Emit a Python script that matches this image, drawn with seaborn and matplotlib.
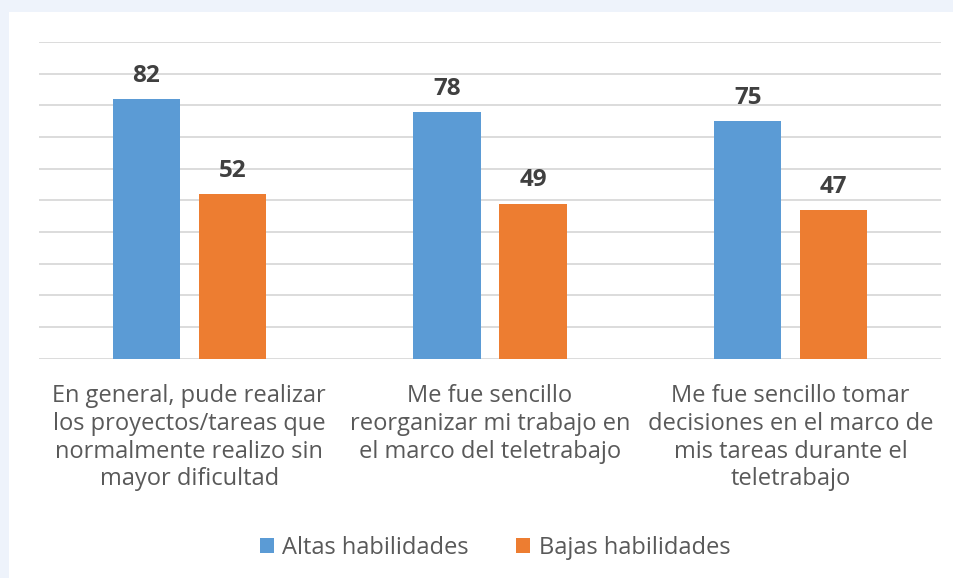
import pandas as pd
import matplotlib.pyplot as plt
import seaborn as sns
from matplotlib.patches import Rectangle, Patch

# Données
categories = [
    "En general, pude realizar\nlos proyectos/tareas que\nnormalmente realizo sin\nmayor dificultad",
    "Me fue sencillo\nreorganizar mi trabajo en\nel marco del teletrabajo",
    "Me fue sencillo tomar\ndecisiones en el marco de\nmis tareas durante el\nteletrabajo",
]
series = ["Altas habilidades", "Bajas habilidades"]
altas = [82, 78, 75]
bajas = [52, 49, 47]
colors = ["#5B9BD5", "#ED7D31"]

df = pd.DataFrame({
    "Categoria": categories * 2,
    "Grupo": [series[0]] * 3 + [series[1]] * 3,
    "Valor": altas + bajas,
})

sns.set_style("white")
plt.rcParams["font.family"] = ["Open Sans", "DejaVu Sans"]

fig = plt.figure(figsize=(9.54, 5.78), dpi=100)
fig.patch.set_facecolor("#EEF3FB")
# panneau blanc
fig.add_artist(Rectangle((9 / 954, 0), 1, 1 - 12 / 578, transform=fig.transFigure,
                         facecolor="white", edgecolor="none", zorder=0))

ax = fig.add_axes([39 / 954, 1 - 358.7 / 578, 902 / 954, (358.7 - 42) / 578])
ax.set_facecolor("none")

sns.barplot(data=df, x="Categoria", y="Valor", hue="Grupo", palette=colors,
            saturation=1, width=0.572, gap=0.22, linewidth=0, edgecolor="none",
            ax=ax, legend=False, zorder=3)

ax.set_ylim(0, 100)
ax.set_yticks(range(0, 101, 10))
ax.yaxis.grid(True, color="#D9D9D9", linewidth=1.3, zorder=0)
ax.set_axisbelow(True)
ax.set_yticklabels([])
ax.tick_params(axis="y", length=0)
ax.tick_params(axis="x", length=0, pad=18.5, labelsize=17, labelcolor="#595959")
for lbl in ax.get_xticklabels():
    lbl.set_linespacing(1.2)
ax.set_xlabel("")
ax.set_ylabel("")
for s in ax.spines.values():
    s.set_visible(False)

for c in ax.containers:
    ax.bar_label(c, padding=8, fontsize=17.5, fontweight="bold", color="#404040")

handles = [Patch(facecolor=col, edgecolor="none") for col in colors]
fig.legend(handles, series, loc="center", bbox_to_anchor=(495 / 954, 1 - 548 / 578),
           ncol=2, frameon=False, fontsize=17, labelcolor="#595959",
           handlelength=0.6, handleheight=0.6, handletextpad=0.35, columnspacing=2.0)

fig.savefig("out.png", dpi=100, facecolor=fig.get_facecolor())
